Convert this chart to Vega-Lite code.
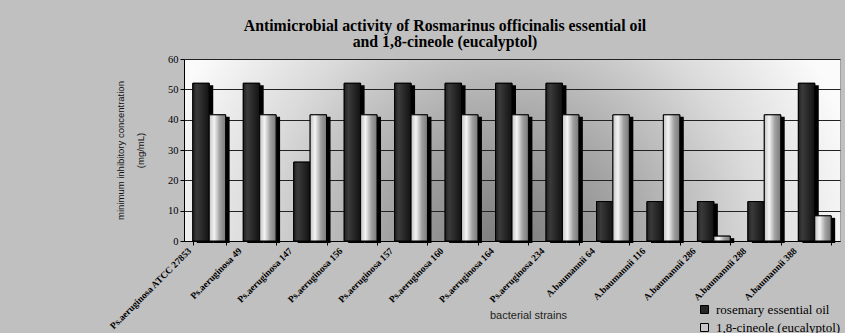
{
  "$schema": "https://vega.github.io/schema/vega-lite/v6.json",
  "width": 656,
  "height": 182,
  "autosize": {"type": "none"},
  "padding": {"left": 184, "top": 59, "right": 5, "bottom": 92},
  "background": "#c0c0c0",
  "title": {
    "text": ["Antimicrobial activity of Rosmarinus officinalis essential oil", "and 1,8-cineole (eucalyptol)"],
    "font": "Times New Roman, Liberation Serif, serif",
    "fontSize": 15.8,
    "fontWeight": "bold",
    "color": "black",
    "anchor": "middle",
    "dx": -67,
    "offset": 3,
    "lineHeight": 16
  },
  "config": {
    "view": {
      "stroke": "#a0a0a0",
      "fill": {
        "gradient": "radial",
        "x1": 0.49, "y1": 0.65, "r1": 0,
        "x2": 0.49, "y2": 0.65, "r2": 0.55,
        "stops": [
          {"offset": 0, "color": "#7a7a7a"},
          {"offset": 0.35, "color": "#a6a6a6"},
          {"offset": 0.7, "color": "#dadada"},
          {"offset": 1, "color": "#fbfbfb"}
        ]
      }
    }
  },
  "resolve": {"scale": {"xOffset": "independent"}},
  "data": {
    "values": [
      {"strain": "Ps.aeruginosa ATCC 27853", "series": "rosemary essential oil", "mic": 52},
      {"strain": "Ps.aeruginosa ATCC 27853", "series": "1,8-cineole (eucalyptol)", "mic": 41.6},
      {"strain": "Ps.aeruginosa 49", "series": "rosemary essential oil", "mic": 52},
      {"strain": "Ps.aeruginosa 49", "series": "1,8-cineole (eucalyptol)", "mic": 41.6},
      {"strain": "Ps.aeruginosa 147", "series": "rosemary essential oil", "mic": 26},
      {"strain": "Ps.aeruginosa 147", "series": "1,8-cineole (eucalyptol)", "mic": 41.6},
      {"strain": "Ps.aeruginosa 156", "series": "rosemary essential oil", "mic": 52},
      {"strain": "Ps.aeruginosa 156", "series": "1,8-cineole (eucalyptol)", "mic": 41.6},
      {"strain": "Ps.aeruginosa 157", "series": "rosemary essential oil", "mic": 52},
      {"strain": "Ps.aeruginosa 157", "series": "1,8-cineole (eucalyptol)", "mic": 41.6},
      {"strain": "Ps.aeruginosa 160", "series": "rosemary essential oil", "mic": 52},
      {"strain": "Ps.aeruginosa 160", "series": "1,8-cineole (eucalyptol)", "mic": 41.6},
      {"strain": "Ps.aeruginosa 164", "series": "rosemary essential oil", "mic": 52},
      {"strain": "Ps.aeruginosa 164", "series": "1,8-cineole (eucalyptol)", "mic": 41.6},
      {"strain": "Ps.aeruginosa 234", "series": "rosemary essential oil", "mic": 52},
      {"strain": "Ps.aeruginosa 234", "series": "1,8-cineole (eucalyptol)", "mic": 41.6},
      {"strain": "A.baumannii 64", "series": "rosemary essential oil", "mic": 13},
      {"strain": "A.baumannii 64", "series": "1,8-cineole (eucalyptol)", "mic": 41.6},
      {"strain": "A.baumannii 116", "series": "rosemary essential oil", "mic": 13},
      {"strain": "A.baumannii 116", "series": "1,8-cineole (eucalyptol)", "mic": 41.6},
      {"strain": "A.baumannii 286", "series": "rosemary essential oil", "mic": 13},
      {"strain": "A.baumannii 286", "series": "1,8-cineole (eucalyptol)", "mic": 1.6},
      {"strain": "A.baumannii 288", "series": "rosemary essential oil", "mic": 13},
      {"strain": "A.baumannii 288", "series": "1,8-cineole (eucalyptol)", "mic": 41.6},
      {"strain": "A.baumannii 388", "series": "rosemary essential oil", "mic": 52},
      {"strain": "A.baumannii 388", "series": "1,8-cineole (eucalyptol)", "mic": 8.3}
    ]
  },
  "encoding": {
    "x": {
      "field": "strain",
      "type": "nominal",
      "sort": null,
      "scale": {"paddingInner": 0.35, "paddingOuter": 0.175},
      "axis": {
        "title": "bacterial strains",
        "titleFont": "Arial, Liberation Sans, sans-serif",
        "titleFontSize": 11,
        "titleFontWeight": "normal",
        "titleColor": "#222222",
        "titleX": 344,
        "titleY": 74,
        "titleBaseline": "middle",
        "labelAngle": -45,
        "labelAlign": "right",
        "labelBaseline": "middle",
        "labelFont": "Times New Roman, Liberation Serif, serif",
        "labelFontWeight": "bold",
        "labelFontSize": 9.5,
        "labelColor": "black",
        "labelOffset": -20,
        "labelPadding": 4,
        "labelLimit": 0,
        "tickBand": "extent",
        "tickSize": 4,
        "tickColor": "black",
        "domainColor": "black"
      }
    },
    "y": {
      "field": "mic",
      "type": "quantitative",
      "scale": {"domain": [0, 60]},
      "axis": {
        "title": ["minimum inhibitory concentration", "(mg/mL)"],
        "titleFont": "Liberation Sans Narrow, Arial Narrow, sans-serif",
        "titleFontSize": 9.5,
        "titleFontWeight": "normal",
        "titleColor": "#111111",
        "titleX": -64,
        "titleY": 91,
        "titleAlign": "center",
        "titleBaseline": "middle",
        "titleLineHeight": 20,
        "values": [0, 10, 20, 30, 40, 50, 60],
        "grid": true,
        "gridColor": "#222222",
        "gridWidth": 1,
        "domainColor": "black",
        "tickColor": "black",
        "tickSize": 4,
        "labelFont": "Times New Roman, Liberation Serif, serif",
        "labelFontSize": 10.5,
        "labelColor": "black",
        "labelPadding": 2
      }
    }
  },
  "layer": [
    {
      "mark": {"type": "bar", "color": "black", "yOffset": 2},
      "encoding": {
        "xOffset": {
          "field": "series",
          "type": "nominal",
          "sort": ["rosemary essential oil", "1,8-cineole (eucalyptol)"],
          "scale": {"range": [4, 36.8]}
        }
      }
    },
    {
      "mark": {"type": "bar", "stroke": "black", "strokeWidth": 1},
      "encoding": {
        "xOffset": {
          "field": "series",
          "type": "nominal",
          "sort": ["rosemary essential oil", "1,8-cineole (eucalyptol)"]
        },
        "color": {
          "field": "series",
          "type": "nominal",
          "scale": {
            "domain": ["rosemary essential oil", "1,8-cineole (eucalyptol)"],
            "range": ["#262626", "#c8c8c8"]
          },
          "legend": {
            "title": null,
            "orient": "none",
            "legendX": 514,
            "legendY": 244,
            "padding": 0,
            "symbolType": "square",
            "symbolSize": 64,
            "symbolStrokeColor": "black",
            "symbolStrokeWidth": 1,
            "labelFont": "Times New Roman, Liberation Serif, serif",
            "labelFontSize": 13,
            "labelColor": "black",
            "labelOffset": 5,
            "labelLimit": 300,
            "rowPadding": 4
          }
        }
      }
    },
    {
      "mark": {"type": "bar", "stroke": "black", "strokeWidth": 1},
      "encoding": {
        "xOffset": {
          "field": "series",
          "type": "nominal",
          "sort": ["rosemary essential oil", "1,8-cineole (eucalyptol)"]
        },
        "fill": {
          "condition": {
            "test": "datum.series === 'rosemary essential oil'",
            "value": {
              "gradient": "linear", "x1": 0, "y1": 0, "x2": 1, "y2": 0,
              "stops": [
                {"offset": 0, "color": "#222222"},
                {"offset": 0.25, "color": "#3a3a3a"},
                {"offset": 1, "color": "#121212"}
              ]
            }
          },
          "value": {
            "gradient": "linear", "x1": 0, "y1": 0, "x2": 1, "y2": 0,
            "stops": [
              {"offset": 0, "color": "#c4c4c4"},
              {"offset": 0.3, "color": "#f4f4f4"},
              {"offset": 0.65, "color": "#a0a0a0"},
              {"offset": 1, "color": "#7a7a7a"}
            ]
          }
        }
      }
    }
  ]
}
